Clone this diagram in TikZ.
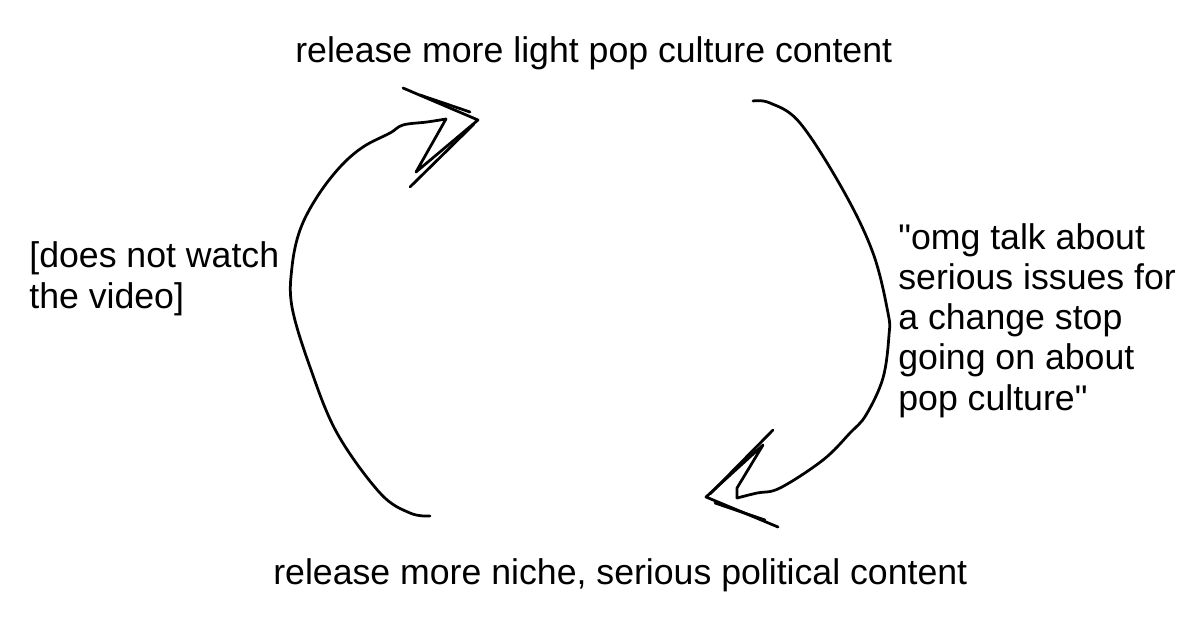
\documentclass[tikz,border=0pt]{standalone}
\usepackage{fontspec}
\setmainfont{Liberation Sans}
\tikzset{
	pen/.style={line width=0.55mm, line join=round, line cap=round},
	words/.style={inner sep=0, font={\fontsize{20.3}{22.8}\selectfont}, align=left}
}

\begin{document}
\begin{tikzpicture}[x=0.02cm, y=-0.02cm]
			%%%%% START %%%%%
			\useasboundingbox[fill=white] (0, 0) rectangle (1200, 636);
			
			\node[words, anchor=base west] (light) at (295, 62) {release more light pop culture content};
			\node[words, anchor=base west] (niche) at (273, 584) {release more niche, serious political content};
			\node[words, anchor=base west] (skip) at (29, 308) {[does not watch\\[0.5pt]the video]};
			\node[words, anchor=base west] (omg) at (898, 410) {\textquotedbl omg talk about\\serious issues for\\a change stop\\going on about\\pop culture\textquotedbl};
			
			\coordinate (uptip) at (478, 120);
			\coordinate (downtip) at (706, 497);
			
			% left curve, up to the top text
			\draw[pen] plot[smooth, tension=0.6] coordinates {(430, 516) (410, 513) (380, 493) (337, 433) (310, 367) (292, 307) (292, 267) (300, 230) (317, 197) (340, 167) (363, 147) (390, 133) (403, 125) (427, 122) (446, 119)};
			\draw[pen] (446, 119) -- (416, 172) -- (uptip) -- (403, 88);
			\draw[pen] (410, 187) -- (474, 124);
			\draw[pen] (420, 95) -- (470, 112);
			
			% right curve, down to the bottom text
			\draw[pen] plot[smooth, tension=0.6] coordinates {(753, 101) (770, 103) (800, 123) (843, 190) (873, 253) (888, 313) (889, 335) (883, 378) (866, 415) (850, 433) (823, 460) (780, 488) (757, 493) (737, 498)};
			\draw[pen] (737, 498) -- (737, 488) -- (763, 445) -- (downtip) -- (778, 527);
			\draw[pen] (773, 430) -- (710, 494);
			\draw[pen] (715, 503) -- (765, 520);
			
			%%%%% END %%%%%
		\end{tikzpicture}
\end{document}
